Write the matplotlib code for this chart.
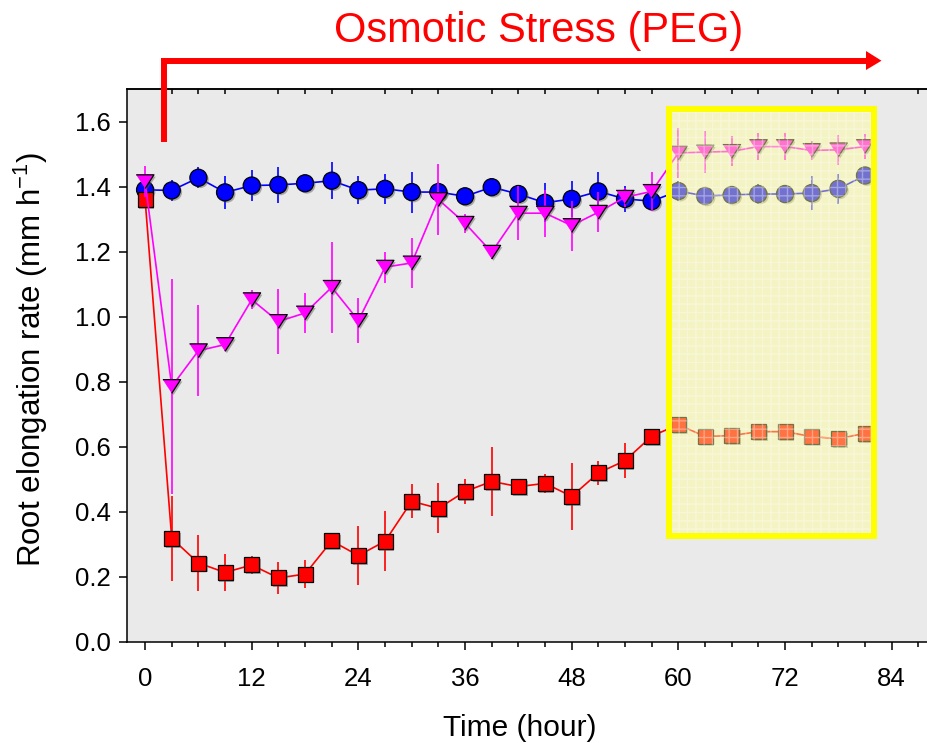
import matplotlib
matplotlib.use("Agg")
import matplotlib.pyplot as plt
import matplotlib.patheffects as pe
from matplotlib.patches import Rectangle, Polygon
from matplotlib.lines import Line2D
from matplotlib.ticker import MultipleLocator, FixedLocator

plt.rcParams['font.family'] = ['Liberation Sans', 'DejaVu Sans']
plt.rcParams['mathtext.fontset'] = 'custom'
plt.rcParams['mathtext.rm'] = 'Liberation Sans'

# Sampling times (hours after transfer)
hours = [0, 3, 6, 9, 12, 15, 18, 21, 24, 27, 30, 33, 36, 39,
         42, 45, 48, 51, 54, 57, 60, 63, 66, 69, 72, 75, 78, 81]

# Control roots (blue circles)
control = [1.390, 1.388, 1.427, 1.382, 1.403, 1.405, 1.410, 1.418, 1.389, 1.393,
           1.383, 1.383, 1.370, 1.398, 1.377, 1.350, 1.362, 1.385, 1.362, 1.355,
           1.386, 1.371, 1.374, 1.377, 1.377, 1.380, 1.393, 1.434]
control_err = [0.020, 0.032, 0.032, 0.050, 0.048, 0.055, 0.020, 0.057, 0.044, 0.046,
               0.063, 0.030, 0.020, 0.020, 0.020, 0.060, 0.056, 0.060, 0.040, 0.030,
               0.030, 0.015, 0.015, 0.032, 0.025, 0.052, 0.046, 0.020]

# Adapting line under PEG (magenta triangles)
adapted = [1.415, 0.785, 0.895, 0.914, 1.052, 0.985, 1.011, 1.090, 0.988, 1.152,
           1.165, 1.360, 1.287, 1.198, 1.318, 1.318, 1.280, 1.321, 1.367, 1.385,
           1.503, 1.506, 1.508, 1.523, 1.523, 1.511, 1.513, 1.523]
adapted_err = [0.047, 0.330, 0.140, 0.020, 0.030, 0.100, 0.060, 0.140, 0.070, 0.048,
               0.077, 0.110, 0.030, 0.020, 0.083, 0.072, 0.077, 0.062, 0.030, 0.060,
               0.077, 0.065, 0.046, 0.042, 0.042, 0.028, 0.046, 0.038]

# Sensitive line under PEG (red squares)
sensitive = [1.361, 0.318, 0.242, 0.213, 0.236, 0.196, 0.208, 0.310, 0.265, 0.309,
             0.432, 0.410, 0.462, 0.493, 0.477, 0.487, 0.447, 0.519, 0.557, 0.632,
             0.668, 0.631, 0.634, 0.646, 0.646, 0.631, 0.624, 0.641]
sensitive_err = [0.020, 0.130, 0.087, 0.057, 0.028, 0.049, 0.044, 0.020, 0.090, 0.092,
                 0.052, 0.077, 0.038, 0.107, 0.020, 0.030, 0.103, 0.038, 0.053, 0.010,
                 0.015, 0.015, 0.015, 0.015, 0.015, 0.015, 0.015, 0.015]

# Steady-state window highlighted at the end of the run
window_start, window_end = 58.9, 82.0
window_low, window_high = 0.325, 1.639

W, H = 928, 743
fig = plt.figure(figsize=(W / 100, H / 100), dpi=100)
ax = fig.add_axes([127.3 / W, 1 - 641.7 / H, (945 - 127.3) / W, (641.7 - 89) / H])
ax.set_facecolor('#EAEAEA')
ax.set_xlim(-2, 90)
ax.set_ylim(0, 1.7)

tri_down = [(-1, 0.77), (1, 0.77), (0, -0.77)]
shadow = [pe.SimplePatchShadow(offset=(1.3, -1.3), shadow_rgbFace='#555555', alpha=0.45),
          pe.Normal()]


def draw_series(y, err, color, marker, ms, z):
    ax.errorbar(hours, y, yerr=err, fmt='none', ecolor=color, elinewidth=1.2,
                capsize=0, zorder=z)
    ax.plot(hours, y, color=color, lw=1.2, zorder=z + 0.2)
    ax.plot(hours, y, ls='none', marker=marker, ms=ms, mfc=color,
            mec='black', mew=0.9, zorder=z + 0.5, path_effects=shadow)


draw_series(control, control_err, '#0000FF', 'o', 12.3, 3)
draw_series(sensitive, sensitive_err, '#FF0000', 's', 10.8, 4)
draw_series(adapted, adapted_err, '#FF00FF', tri_down, 12.8, 5)

# Highlight window: translucent wash, faint grid texture, bright border
rect = (window_start, window_low)
rw, rh = window_end - window_start, window_high - window_low
ax.add_patch(Rectangle(rect, rw, rh, facecolor=(1, 1, 0.58), alpha=0.45,
                       edgecolor='none', zorder=10))
ax.add_patch(Rectangle(rect, rw, rh, facecolor='none', edgecolor=(1, 1, 1, 0.35),
                       lw=0, hatch='++', zorder=10.5))
ax.add_patch(Rectangle(rect, rw, rh, facecolor='none', edgecolor='#FFFF00',
                       lw=4.3, zorder=11))

# Axes styling
for side in ['left', 'bottom', 'top', 'right']:
    ax.spines[side].set_linewidth(1.1)
ax.xaxis.set_major_locator(MultipleLocator(12))
ax.xaxis.set_minor_locator(MultipleLocator(3))
ax.yaxis.set_major_locator(MultipleLocator(0.2))
ax.set_yticklabels([f'{v:.1f}' for v in ax.get_yticks()])
ax.tick_params(axis='x', which='major', direction='out', length=5.5, width=1.1,
               labelsize=18.5, pad=12.5, top=False)
ax.tick_params(axis='x', which='minor', direction='out', length=3.6, width=1.1,
               top=False)
ax.tick_params(axis='y', which='major', direction='out', length=5.8, width=1.1,
               labelsize=18.5, pad=6, right=False)

top_ticks = [t for t in range(3, 90, 3) if t % 12 != 0]
sec = ax.secondary_xaxis('top')
sec.xaxis.set_major_locator(FixedLocator(top_ticks))
sec.tick_params(axis='x', which='both', direction='in', length=3.5, width=1.1,
                labeltop=False)
sec.spines['top'].set_linewidth(1.1)

ax.set_xlabel('Time (hour)', fontsize=21.5)
ax.set_ylabel('Root elongation rate (mm h$^{\\mathregular{-1}}$)', fontsize=22.5)
ax.xaxis.set_label_coords(0.48, -0.13)
ax.yaxis.set_label_coords(-0.0945, 0.51)

# Stress onset arrow and annotation
px = lambda x: x / W
py = lambda y: 1 - y / H
fig.add_artist(Line2D([px(163.7), px(163.7), px(868)], [py(142.3), py(60.7), py(60.7)],
                      color='#FF0000', lw=4.3, solid_capstyle='butt',
                      solid_joinstyle='miter'))
fig.add_artist(Polygon([(px(866), py(51)), (px(881.5), py(60.7)), (px(866), py(70))],
                       closed=True, facecolor='#FF0000', edgecolor='none'))
fig.text(px(539), py(42), 'Osmotic Stress (PEG)', color='#FF0000', fontsize=30,
         ha='center', va='baseline')

fig.savefig('out.png', dpi=100)
